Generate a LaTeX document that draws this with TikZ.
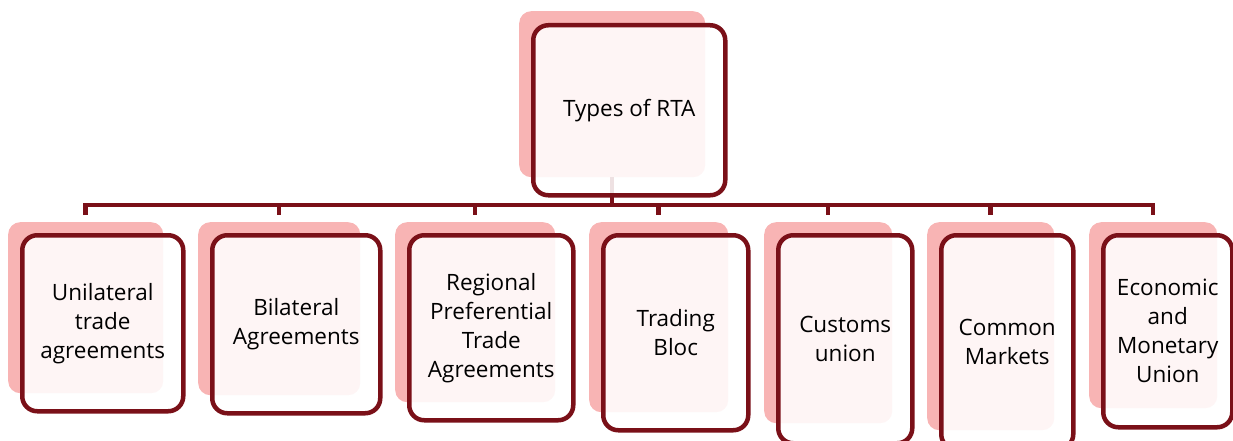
\documentclass[tikz,border=0pt]{standalone}
\usepackage{fontspec}
\setmainfont{Open Sans}
\definecolor{rtared}{RGB}{122,16,24}
\definecolor{rtapink}{RGB}{248,180,180}

\begin{document}
\begin{tikzpicture}[x=1pt,y=-1pt,
	shad/.style={rectangle, rounded corners=12pt, fill=rtapink, inner sep=0pt, anchor=north west},
	box/.style={rectangle, rounded corners=15pt, draw=rtared, line width=4.5pt, fill=white, fill opacity=0.88, text opacity=1, inner sep=0pt, anchor=north west, align=center, font=\fontsize{22.5}{29}\selectfont},
	conn/.style={draw=rtared, line width=4.5pt}]
	\useasboundingbox (0,0) rectangle (1233,441);
	% shadows
	\node[shad, minimum width=186pt, minimum height=166pt] (stop) at (519,11) {};
	\foreach \n/\sa/\sb/\sc in {1/8/163/393, 2/198/360/395, 3/395/555/402, 4/589/728/412, 5/764/892/423, 6/927/1054/430, 7/1089/1217/408}
		\node[shad, minimum width={(\sb-\sa)*1pt}, minimum height={(\sc-222)*1pt}] (s\n) at (\sa,222) {};
	% connectors
	\coordinate (bus) at (612,205);
	\draw[conn] (stop.south) -- (stop.south |- bus);
	\draw[conn] ([yshift=7pt]s1.north) |- (bus) -| ([yshift=7pt]s7.north);
	\foreach \n in {2,...,6}
		\draw[conn] (s\n.north |- bus) -- ([yshift=7pt]s\n.north);
	% boxes
	\node[box, minimum width=192pt, minimum height=170pt] (top) at (531,23) {Types of RTA};
	\foreach \n/\ba/\bb/\bc/\t in {1/20/181/409/{Unilateral\\trade\\agreements}, 2/210/378/411/{Bilateral\\Agreements}, 3/407/571/418/{Regional\\Preferential\\Trade\\Agreements}, 4/601/746/428/{Trading\\Bloc}, 5/776/910/441/{Customs\\union}, 6/939/1071/447/{Common\\Markets}, 7/1101/1230/425/{Economic\\and\\Monetary\\Union}}
		\node[box, minimum width={(\bb-\ba)*1pt}, minimum height={(\bc-233)*1pt}] (b\n) at (\ba,233) {\t};
\end{tikzpicture}
\end{document}
